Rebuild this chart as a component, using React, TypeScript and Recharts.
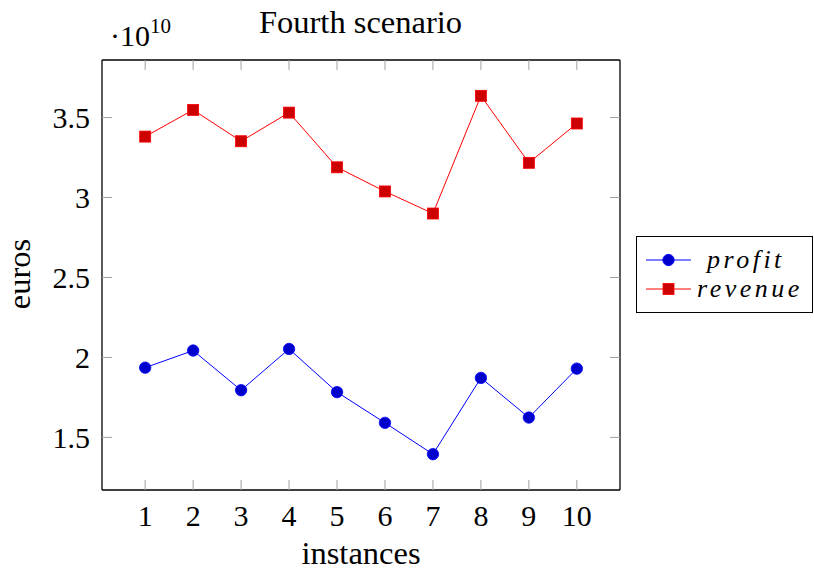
import { Legend, Line, LineChart, XAxis, YAxis } from "recharts";

const instances = [1, 2, 3, 4, 5, 6, 7, 8, 9, 10];
const profit = [1.936e10, 2.043e10, 1.795e10, 2.053e10, 1.783e10, 1.591e10, 1.395e10, 1.872e10, 1.624e10, 1.93e10];
const revenue = [3.381e10, 3.548e10, 3.352e10, 3.531e10, 3.189e10, 3.038e10, 2.9e10, 3.636e10, 3.217e10, 3.463e10];
const xTicks = [1, 2, 3, 4, 5, 6, 7, 8, 9, 10];
const yTicks = [1.5e10, 2e10, 2.5e10, 3e10, 3.5e10];

const data = instances.map((x, i) => ({ instance: x, profit: profit[i], revenue: revenue[i] }));

const FONT = "'Liberation Serif', 'Times New Roman', serif";
const X_DOMAIN: [number, number] = [0.1, 10.9];
const Y_DOMAIN: [number, number] = [1.171e10, 3.86e10];

const BLUE = "#0000ff";
const BLUE_FILL = "#0000cc";
const RED = "#ff0000";
const RED_FILL = "#cc0000";

const tickStyle = { fill: "#000", fontSize: 30, fontFamily: FONT };
const tickLine = { stroke: "#a0a0a0", strokeWidth: 1 };
const axisLine = { stroke: "#000", strokeWidth: 1.3 };
const yFmt = (v: number) => String(v / 1e10);

function SquareDot(props: any) {
  const { cx, cy } = props;
  if (cx == null || cy == null) return null;
  return <rect x={cx - 5.5} y={cy - 5.5} width={11} height={11} fill={RED_FILL} stroke={RED} strokeWidth={0.8} />;
}

// legend drawn by hand so it looks like the pgfplots box
function LegendBox() {
  const items = [
    { name: "profit", color: BLUE, fill: BLUE_FILL, square: false },
    { name: "revenue", color: RED, fill: RED_FILL, square: true },
  ];
  return (
    <div
      style={{
        width: 177,
        height: 77,
        border: "1.3px solid #000",
        background: "#fff",
        boxSizing: "border-box",
        padding: "8px 0 0 8px",
      }}
    >
      {items.map((it) => (
        <div key={it.name} style={{ display: "flex", alignItems: "center", height: 29 }}>
          <svg width={48} height={20} style={{ flex: "none" }}>
            <line x1={1} y1={10} x2={46} y2={10} stroke={it.color} strokeWidth={1} />
            {it.square ? (
              <rect x={18} y={4.5} width={11} height={11} fill={it.fill} stroke={it.color} strokeWidth={0.8} />
            ) : (
              <circle cx={23.5} cy={10} r={5.7} fill={it.fill} stroke={it.color} strokeWidth={0.8} />
            )}
          </svg>
          <div
            style={{
              fontFamily: FONT,
              fontStyle: "italic",
              fontSize: 26,
              marginLeft: it.square ? 4 : 14,
              letterSpacing: 3.5,
              height: 29,
              lineHeight: "29px",
              whiteSpace: "nowrap",
            }}
          >
            {it.name}
          </div>
        </div>
      ))}
    </div>
  );
}

export default function App() {
  return (
    <div style={{ position: "absolute", left: 0, top: 0, width: 814, height: 571, background: "#fff" }}>
      <LineChart width={814} height={571} data={data} margin={{ top: 0, right: 0, bottom: 0, left: 0 }}>
        <XAxis
          dataKey="instance"
          type="number"
          domain={X_DOMAIN}
          ticks={xTicks}
          allowDataOverflow
          height={81}
          tickSize={-10}
          tickMargin={25}
          tickLine={tickLine}
          axisLine={axisLine}
          tick={tickStyle}
        />
        <XAxis
          xAxisId="top"
          orientation="top"
          dataKey="instance"
          type="number"
          domain={X_DOMAIN}
          ticks={xTicks}
          allowDataOverflow
          height={60}
          tickSize={-10}
          tickLine={tickLine}
          axisLine={axisLine}
          tickFormatter={() => ""}
        />
        <YAxis
          type="number"
          domain={Y_DOMAIN}
          ticks={yTicks}
          allowDataOverflow
          width={102}
          tickSize={-10}
          tickMargin={22}
          tickLine={tickLine}
          axisLine={axisLine}
          tick={tickStyle}
          tickFormatter={yFmt}
        />
        <YAxis
          yAxisId="right"
          orientation="right"
          type="number"
          domain={Y_DOMAIN}
          ticks={yTicks}
          allowDataOverflow
          width={194}
          tickSize={-10}
          tickLine={tickLine}
          axisLine={axisLine}
          tickFormatter={() => ""}
        />
        <Legend
          layout="horizontal"
          align="center"
          verticalAlign="middle"
          wrapperStyle={{ left: 636, top: 236, width: 177, height: 77 }}
          content={() => <LegendBox />}
        />
        <Line
          dataKey="profit"
          stroke={BLUE}
          strokeWidth={1}
          dot={{ r: 5.7, fill: BLUE_FILL, stroke: BLUE, strokeWidth: 0.8 }}
          activeDot={false}
          isAnimationActive={false}
        />
        <Line
          dataKey="revenue"
          stroke={RED}
          strokeWidth={1}
          dot={<SquareDot />}
          activeDot={false}
          isAnimationActive={false}
        />
      </LineChart>
      <svg
        width={814}
        height={571}
        style={{ position: "absolute", left: 0, top: 0, pointerEvents: "none" }}
        fontFamily={FONT}
      >
        <text x={360.5} y={33} textAnchor="middle" fontSize={32.5}>
          Fourth scenario
        </text>
        <text x={110} y={46} fontSize={30}>
          ·10
          <tspan fontSize={21} dy={-13}>
            10
          </tspan>
        </text>
        <text transform="translate(30,274) rotate(-90)" textAnchor="middle" fontSize={32.5}>
          euros
        </text>
        <text x={361} y={564} textAnchor="middle" fontSize={32.5}>
          instances
        </text>
      </svg>
    </div>
  );
}
